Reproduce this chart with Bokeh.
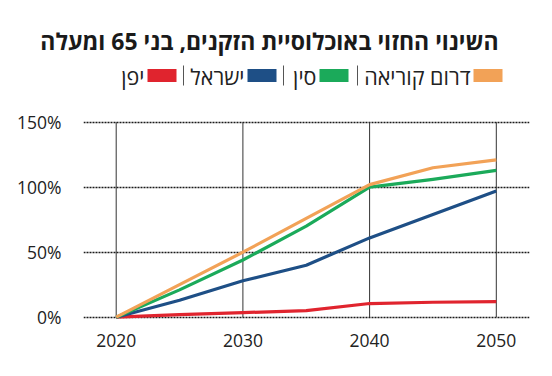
from bokeh.plotting import figure
from bokeh.models import Range1d, FixedTicker, CustomJSTickFormatter
from bokeh.core.properties import value
from bokeh.embed import file_html
from bokeh.resources import INLINE

# ---- data ----
years = [2020, 2025, 2030, 2035, 2040, 2045, 2050]
korea = [0, 25, 50, 76, 102, 115, 121]
china = [0, 21, 44, 70, 100, 106, 113]
israel = [0, 13, 28, 40, 61, 79, 97]
japan = [0, 2, 3.5, 5, 10.5, 11.5, 12]

series_names = ["דרום קוריאה", "סין", "ישראל", "יפן"]
series_values = [korea, china, israel, japan]
series_colors = ["#F2A257", "#1BAA5A", "#1E4F86", "#E0242E"]

x_ticks = [2020, 2030, 2040, 2050]
y_ticks = [0, 50, 100, 150]
title_text = "השינוי החזוי באוכלוסיית הזקנים, בני 65 ומעלה"

FONT = "Open Sans"

# ---- layout constants (pixels) ----
W, H = 536, 360
F_LEFT, F_RIGHT, F_TOP, F_BOTTOM = 83, 529, 60, 322

p = figure(width=W, height=H, output_backend="svg", toolbar_location=None,
           x_range=Range1d(2017.42, 2052.62), y_range=Range1d(-4.1, 197.5),
           min_border_left=F_LEFT, min_border_right=W - F_RIGHT, min_border_top=F_TOP,
           min_border_bottom=H - F_BOTTOM, outline_line_color=None)
# pixel coordinate system for the legend row
p.extra_x_ranges = {"px": Range1d(F_LEFT, F_RIGHT)}
p.extra_y_ranges = {"px": Range1d(F_BOTTOM, F_TOP)}

# ---- title ----
p.title.text = title_text
p.title.align = "right"
p.title.offset = 31
p.title.standoff = 8
p.title.text_font = FONT
p.title.text_font_size = "23px"
p.title.text_font_style = "bold"
p.title.text_color = "#1a1a1a"

# ---- chart ----
p.xgrid.visible = False
p.ygrid.ticker = FixedTicker(ticks=y_ticks)
p.ygrid.grid_line_color = "#1a1a1a"
p.ygrid.grid_line_dash = "2 1"
p.ygrid.grid_line_width = 1.5

p.segment(x0=x_ticks, x1=x_ticks, y0=[y_ticks[0]] * len(x_ticks),
          y1=[y_ticks[-1]] * len(x_ticks), line_color="#333333", line_width=1)

for vals, col in zip(reversed(series_values), reversed(series_colors)):
    p.line(years, vals, line_color=col, line_width=3.2, line_join="round")

for ax in (p.xaxis, p.yaxis):
    ax.axis_line_color = None
    ax.major_tick_line_color = None
    ax.minor_tick_line_color = None
    ax.major_label_text_font = FONT
    ax.major_label_text_font_size = "17.5px"
    ax.major_label_text_color = "#222222"

p.xaxis.ticker = FixedTicker(ticks=x_ticks)
p.xaxis.major_label_standoff = 5
p.yaxis.ticker = FixedTicker(ticks=y_ticks)
p.yaxis.formatter = CustomJSTickFormatter(code="return tick + '%';")
p.yaxis.major_label_standoff = 16

# ---- legend (right-to-left) ----
sw_right = [502, 348, 276, 176]
sw_w, sw_h = 29, 13
ly = 75
p.rect(x=[r - sw_w / 2 for r in sw_right], y=[ly] * 4, width=sw_w, height=sw_h,
       fill_color=series_colors, line_color=None, x_range_name="px", y_range_name="px")
p.text(x=[r - sw_w - 3 for r in sw_right], y=[ly + 1] * 4, text=series_names,
       text_font=value(FONT), text_font_size="21.5px", text_color="#222222",
       text_align="right", text_baseline="middle", x_range_name="px", y_range_name="px")
sep_x = [357, 283, 183]
p.segment(x0=sep_x, x1=sep_x, y0=[ly - 10] * 3, y1=[ly + 10] * 3,
          line_color="#555555", line_width=1, x_range_name="px", y_range_name="px")

open("out.html", "w").write(file_html(p, INLINE))
